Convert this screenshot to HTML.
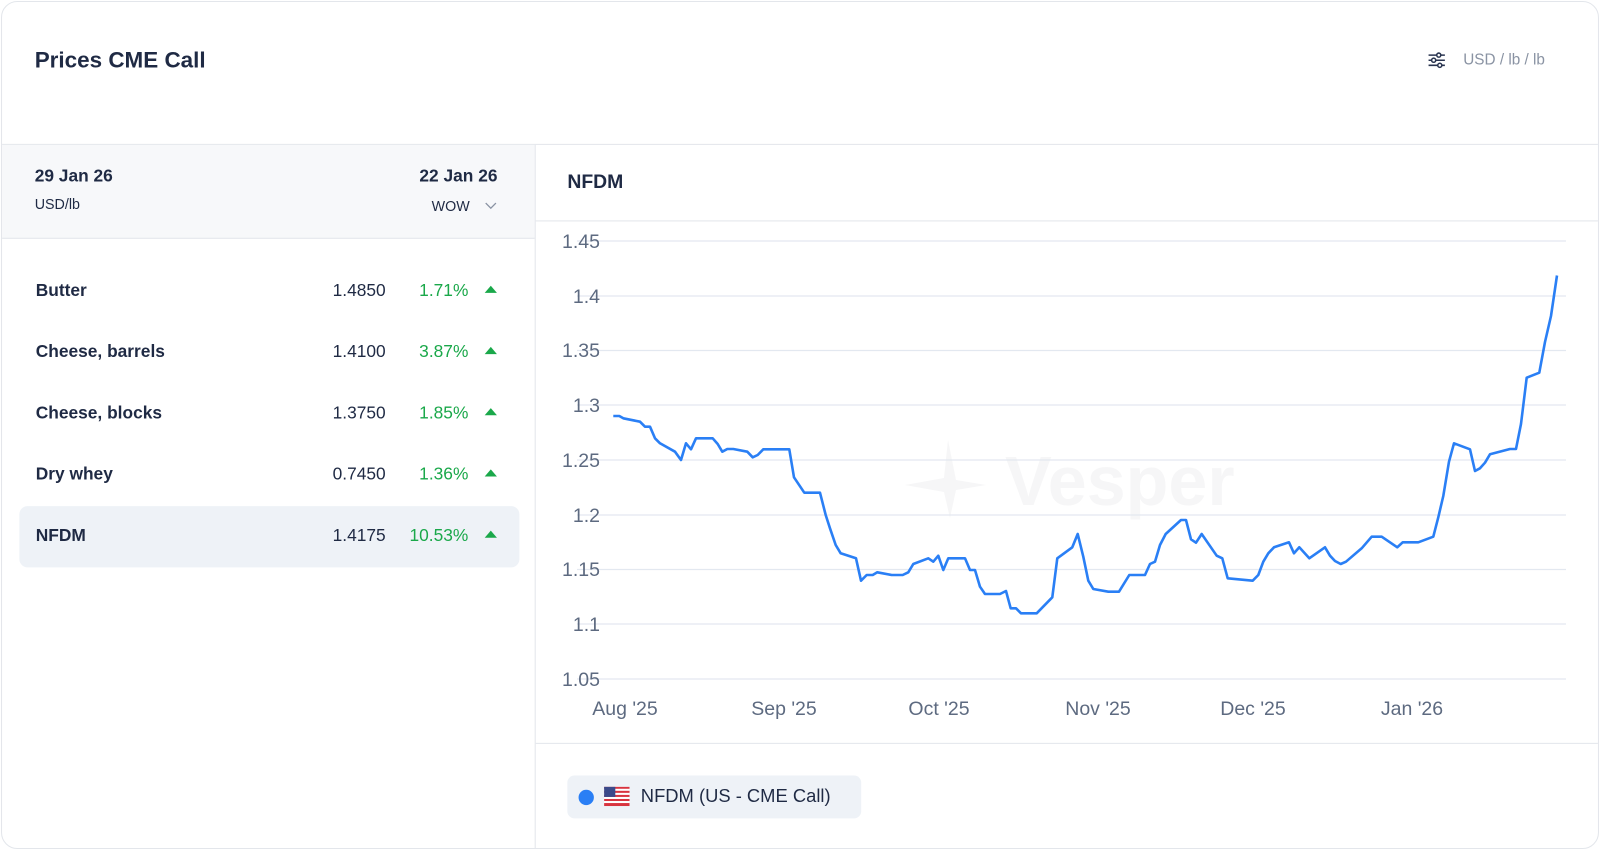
<!DOCTYPE html>
<html><head><meta charset="utf-8"><style>
*{box-sizing:border-box;margin:0;padding:0}
body{width:1600px;height:850px;background:#fff;font-family:"Liberation Sans",sans-serif;color:#1f2a44;overflow:hidden}
#s{position:absolute;left:0;top:0;width:1568px;height:833px;transform:scale(1.0204);transform-origin:0 0}
.card{position:absolute;left:1px;top:1px;width:1566px;height:831px;border:1px solid #e3e6eb;border-radius:16px;overflow:hidden;background:#fff}
.a{position:absolute;white-space:nowrap}
.row{position:absolute;left:17px;width:490px;height:60px;border-radius:8px}
.row .n{position:absolute;left:16px;top:19px;font-size:17px;font-weight:bold}
.row .v{position:absolute;right:131px;top:19px;font-size:17px}
.row .p{position:absolute;right:50px;top:19px;font-size:17px;color:#1aa84a}
.row .t{position:absolute;right:22px;top:24px;width:0;height:0;border-left:6px solid transparent;border-right:6px solid transparent;border-bottom:7px solid #1aa84a}
</style></head><body><div id="s"><div class="card">
<div class="a" style="left:32px;top:44px;font-size:22px;font-weight:bold">Prices CME Call</div>
<svg class="a" style="left:1396px;top:48px" width="20" height="18" viewBox="0 0 20 18" fill="none" stroke="#2a3550" stroke-width="1.5"><line x1="2" y1="4" x2="18" y2="4"/><line x1="2" y1="9" x2="18" y2="9"/><line x1="2" y1="14" x2="18" y2="14"/><circle cx="12" cy="4" r="2" fill="#fff"/><circle cx="7" cy="9" r="2" fill="#fff"/><circle cx="13" cy="14" r="2" fill="#fff"/></svg>
<div class="a" style="left:1432px;top:48px;font-size:15px;color:#8a93a3">USD / lb / lb</div>
<div class="a" style="left:0;top:139px;width:1566px;height:1px;background:#e3e6eb"></div>
<div class="a" style="left:0;top:140px;width:522px;height:92px;background:#f7f8fa;border-bottom:1px solid #e3e6eb"></div>
<div class="a" style="left:522px;top:140px;width:1px;height:700px;background:#e3e6eb"></div>
<div class="a" style="left:32px;top:161px;font-size:17px;font-weight:bold">29 Jan 26</div>
<div class="a" style="left:32px;top:190px;font-size:14px">USD/lb</div>
<div class="a" style="left:409px;top:161px;font-size:17px;font-weight:bold">22 Jan 26</div>
<div class="a" style="left:421px;top:192px;font-size:14px">WOW</div>
<svg class="a" style="left:473px;top:196px" width="12" height="8"><polyline points="1,1 6,6 11,1" fill="none" stroke="#8a93a3" stroke-width="1.3"/></svg>
<div class="row" style="top:254px"><span class="n">Butter</span><span class="v">1.4850</span><span class="p">1.71%</span><span class="t"></span></div>
<div class="row" style="top:314px"><span class="n">Cheese, barrels</span><span class="v">1.4100</span><span class="p">3.87%</span><span class="t"></span></div>
<div class="row" style="top:374px"><span class="n">Cheese, blocks</span><span class="v">1.3750</span><span class="p">1.85%</span><span class="t"></span></div>
<div class="row" style="top:434px"><span class="n">Dry whey</span><span class="v">0.7450</span><span class="p">1.36%</span><span class="t"></span></div>
<div class="row" style="top:494px;background:#eef2f7"><span class="n">NFDM</span><span class="v">1.4175</span><span class="p">10.53%</span><span class="t"></span></div>
<div class="a" style="left:554px;top:166px;font-size:19px;font-weight:bold">NFDM</div>
<div class="a" style="left:523px;top:214px;width:1044px;height:1px;background:#e3e6eb"></div>
<div class="a" style="left:523px;top:726px;width:1044px;height:1px;background:#e3e6eb"></div>
<div class="a" style="left:554px;top:758px;width:288px;height:42px;background:#eef2f7;border-radius:7px"></div>
<div class="a" style="left:565px;top:772px;width:15px;height:15px;border-radius:50%;background:#2a7ff5"></div>
<svg class="a" style="left:590px;top:769px" width="25" height="19" viewBox="0 0 25 19"><rect width="25" height="19" rx="3" fill="#fff"/><g fill="#d8343f"><rect y="0" width="25" height="2"/><rect y="4" width="25" height="2"/><rect y="8" width="25" height="2"/><rect y="12" width="25" height="2"/><rect y="16" width="25" height="3"/></g><rect width="11" height="10" fill="#3b4a8a"/></svg>
<div class="a" style="left:626px;top:768px;font-size:18px">NFDM (US - CME Call)</div>
</div>
<svg class="a" style="left:0;top:0" width="1568" height="833" viewBox="0 0 1600 850">
<g fill="#f6f6f7"><text x="1005" y="505" font-size="70" font-weight="bold" font-family="Liberation Sans,sans-serif">Vesper</text><path d="M948 440 L956 480 L986 485 L956 490 L950 518 L944 492 L905 485 L944 478 Z"/></g>
<g stroke="#e3e8f0" stroke-width="1.2">
<line x1="577" x2="1566" y1="241" y2="241"/><line x1="577" x2="1566" y1="296" y2="296"/><line x1="577" x2="1566" y1="350.5" y2="350.5"/><line x1="577" x2="1566" y1="405" y2="405"/><line x1="577" x2="1566" y1="460" y2="460"/><line x1="577" x2="1566" y1="515" y2="515"/><line x1="577" x2="1566" y1="569.5" y2="569.5"/><line x1="577" x2="1566" y1="624" y2="624"/><line x1="577" x2="1566" y1="679" y2="679"/></g>
<g fill="#5d6a80" font-size="19.5" font-family="Liberation Sans,sans-serif" text-anchor="end">
<text x="600" y="248">1.45</text><text x="600" y="303">1.4</text><text x="600" y="357">1.35</text><text x="600" y="412">1.3</text><text x="600" y="467">1.25</text><text x="600" y="522">1.2</text><text x="600" y="576">1.15</text><text x="600" y="631">1.1</text><text x="600" y="686">1.05</text></g>
<g fill="#5d6a80" font-size="19.5" font-family="Liberation Sans,sans-serif" text-anchor="middle">
<text x="625" y="715">Aug '25</text><text x="784" y="715">Sep '25</text><text x="939" y="715">Oct '25</text><text x="1098" y="715">Nov '25</text><text x="1253" y="715">Dec '25</text><text x="1412" y="715">Jan '26</text></g>
<polyline fill="none" stroke="#2a7ff5" stroke-width="2.6" stroke-linejoin="round" points="613.3,416 619.3,416 623.3,418.3 640,421.7 645,426.7 650,426.7 655,438.3 660,443.3 675,451.7 681,460 686,443.3 691,449.3 696,438.3 712.7,438.3 717.7,444 722.3,451.7 727.3,449 733.3,449 747.3,451.7 752.7,457.3 757.7,455 763.3,449.3 789.3,449.3 794,477.3 804.3,492.7 820,492.7 825.7,515 830,528.3 835.7,545 840.7,553.3 856,558.3 861,580.7 866.7,575 872.7,575 877.3,572.3 891.7,575 902.7,575 908.3,572.3 913.3,564 928.3,558.3 933.3,561.7 938.3,555.7 943.3,570 948.3,558.3 965,558.3 970,570 975,570 980,586.7 985,594 1000,594 1006,591 1010.7,608.3 1016,608.3 1021,613.3 1036.7,613.3 1052.3,597.3 1057.3,558.3 1072.3,547.3 1077.7,534 1083.3,556.7 1088.3,580.7 1093.3,589 1108.3,591.7 1119,591.7 1129.3,575 1145,575 1150,564 1155,561.7 1160,545 1165.7,534 1181,520 1186,520 1191,539.3 1196,542.7 1201.7,534 1216.7,555.7 1222.3,558.3 1227.7,578.3 1252.7,580.7 1258.3,575 1263.3,561.7 1268.3,553.3 1274,547.3 1289,542.3 1294,553.3 1299.3,547.3 1309.3,558.3 1325,547.3 1330,555.7 1335,561 1340.7,564 1346,561.7 1361.7,548.3 1371.7,536.7 1381.7,536.7 1397.3,547.3 1402.7,542.3 1418.3,542.3 1433.3,536.7 1438.3,517.3 1443.3,496 1449,461.7 1454,443.3 1470,449.3 1475,471 1480,468.3 1485,462.7 1490,454.3 1510,449 1516,449 1521,424 1526.7,377.7 1539.3,372.7 1545,342 1551,316 1557,275.5"/>
</svg>
</div></body></html>
